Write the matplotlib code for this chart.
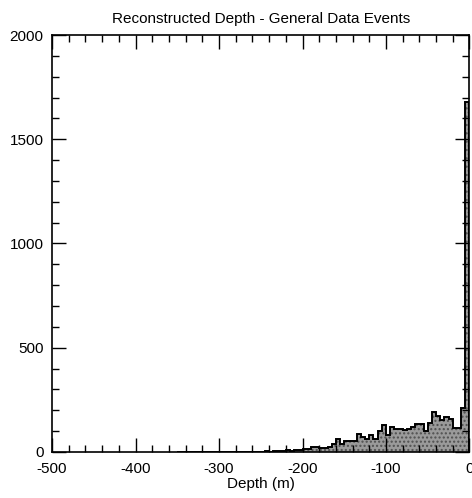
import numpy as np
import matplotlib
matplotlib.use('Agg')
import matplotlib.pyplot as plt
from matplotlib.ticker import MultipleLocator

plt.rcParams['font.family'] = ['Liberation Sans', 'DejaVu Sans']
plt.rcParams['axes.unicode_minus'] = False

# histogram of reconstructed depth, 5 m bins from -350 to 0
bin_edges = np.arange(-350, 1, 5)
counts = [0, 0, 1, 0, 0, 1, 0, 1, 0, 2,
          1, 2, 0, 1, 1, 2, 1, 0, 2, 1,
          2, 5, 2, 3, 4, 5, 8, 6, 10, 8,
          12, 14, 25, 25, 20, 20, 25, 37, 62, 37,
          55, 52, 52, 86, 74, 62, 82, 62, 102, 128,
          82, 118, 112, 108, 106, 112, 118, 134, 134, 100,
          138, 190, 172, 153, 166, 158, 113, 116, 210, 1680]
centers = (bin_edges[:-1] + bin_edges[1:]) / 2

fig = plt.figure(figsize=(4.72, 4.98), dpi=100)
ax = fig.add_axes([0.1102, 0.0924, 0.8845, 0.8373])

# dotted grey fill, then black outline
ax.hist(centers, bins=bin_edges, weights=counts, histtype='stepfilled',
        facecolor='#9a9a9a', edgecolor='#505050', linewidth=0, hatch='....')
ax.hist(centers, bins=bin_edges, weights=counts, histtype='step',
        color='black', linewidth=1.4)

ax.set_xlim(-500, 0)
ax.set_ylim(0, 2000)
ax.xaxis.set_major_locator(MultipleLocator(100))
ax.xaxis.set_minor_locator(MultipleLocator(20))
ax.yaxis.set_major_locator(MultipleLocator(500))
ax.yaxis.set_minor_locator(MultipleLocator(100))
ax.tick_params(which='both', direction='in', top=True, right=True,
               labelsize=11, width=1, color='black')
ax.tick_params(which='major', length=10)
ax.tick_params(which='minor', length=5)
ax.tick_params(axis='x', pad=7)
ax.tick_params(axis='y', pad=6)
for s in ax.spines.values():
    s.set_linewidth(1.2)

ax.set_xlabel('Depth (m)', fontsize=11, labelpad=1)
ax.set_title('Reconstructed Depth - General Data Events', fontsize=11, pad=9)

plt.savefig('out.png', dpi=100)
